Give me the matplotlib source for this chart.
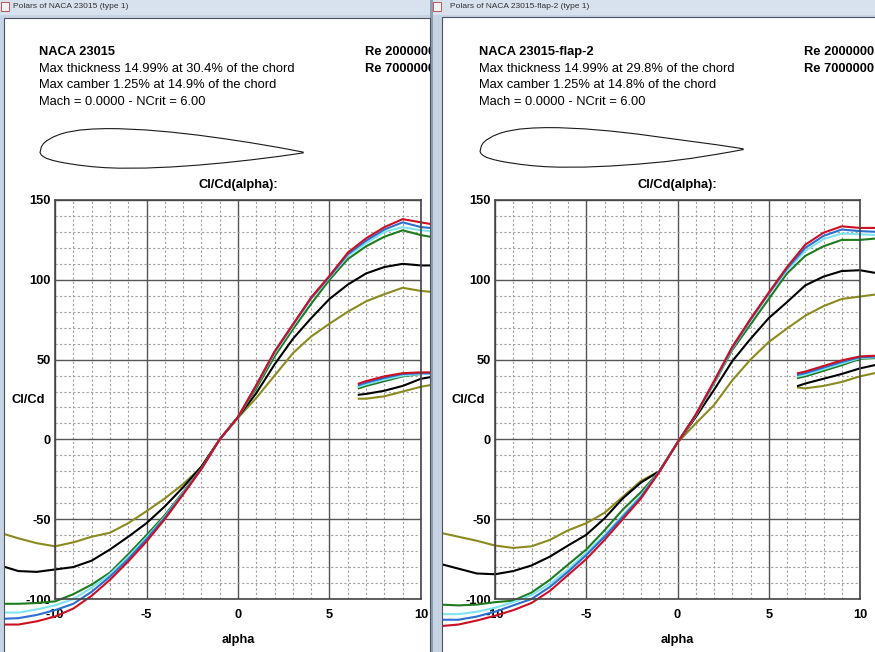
import numpy as np
import matplotlib
matplotlib.use("Agg")
import matplotlib.pyplot as plt
from matplotlib.patches import Rectangle
from matplotlib.ticker import MultipleLocator

plt.rcParams['font.family'] = ['Liberation Sans', 'DejaVu Sans']
plt.rcParams['axes.unicode_minus'] = False

W, H = 875, 652

# angle of attack (deg), main branch and the short high-alpha branch
alpha_main = [-13, -12, -11, -10, -9, -8, -7, -6, -5, -4, -3, -2, -1,
              0, 1, 2, 3, 4, 5, 6, 7, 8, 9, 10, 11]
alpha_high = [6.6, 7, 8, 9, 10, 11]

# Cl/Cd, NACA 23015 (left window)
red_L = [-116, -116, -114, -111, -106, -98, -88, -76.5, -64, -50, -34.5, -18.5, 0,
         14, 34, 55, 72, 89, 102.5, 117, 126, 133, 138, 136, 134]
blue_L = [-112.5, -112, -110, -107, -103, -95.5, -86, -75, -62.5, -49, -34, -18.5, 0,
          14, 34, 55, 72, 88.5, 102, 116, 124.5, 131.5, 136, 133, 132]
cyan_L = [-108.5, -108.5, -106.5, -104, -100, -93, -84.5, -73.5, -61.5, -48.5, -33.5, -18.5, 0,
          14, 33.5, 54, 71, 88, 101.5, 115, 123, 130, 133, 131, 130]
green_L = [-103, -103, -102.5, -101.5, -97, -91, -83.5, -72, -60, -47.5, -33, -18, 0,
           14, 32, 52, 69, 85, 100, 113, 121, 127, 131, 128, 126]
black_L = [-79, -82.5, -83, -81.5, -80, -76, -69, -61, -52.5, -42, -30, -17, 0,
           14, 29, 47, 63, 76, 88, 97, 104, 108, 110, 109, 109]
olive_L = [-58.5, -62, -65, -67, -64.5, -61, -58.5, -52.5, -45, -37, -28, -17.5, 0,
           13.5, 26, 40, 54, 64.5, 72.5, 80, 86.5, 91, 95, 93, 92]

red_L_hi = [35, 36.5, 39.5, 41.5, 42, 42]
blue_L_hi = [34, 35.5, 38.5, 41, 41.5, 41.5]
cyan_L_hi = [33, 34.5, 37.5, 40, 41, 41]
green_L_hi = [32, 33.5, 36.5, 39.5, 41, 41]
black_L_hi = [28, 28.5, 30.5, 33.5, 38, 40]
olive_L_hi = [25.5, 25.5, 27, 30, 33, 35]

# Cl/Cd, NACA 23015-flap-2 (right window)
red_R = [-117, -116, -113.5, -110.5, -107, -102.5, -95, -85, -75, -63, -50, -37, -20.5,
         -2, 15.5, 36.5, 58, 75.5, 92, 108, 122, 129.5, 133.5, 132.5, 132.5]
blue_R = [-113, -113, -111, -108, -104, -100, -92.5, -83, -72.5, -61, -48.5, -36, -20,
          -2, 15.5, 36, 57.5, 75, 91.5, 107, 120, 127.5, 131.5, 130.5, 130]
cyan_R = [-109.5, -109.5, -108, -105.5, -102, -97.5, -90.5, -81.5, -71, -60, -47.5, -35, -20,
          -2, 15, 35.5, 57, 74.5, 91, 106, 118, 125.5, 129, 128.5, 128]
green_R = [-103.5, -104, -103.5, -102, -101, -96, -88, -78.5, -69, -57, -44, -33, -20,
           -2, 15, 35, 56, 72, 88, 104, 115, 121, 125, 125, 126]
black_R = [-78, -81, -84, -84.5, -82.5, -79, -73.5, -66.5, -59.8, -49.5, -37, -27, -20,
           -2, 14, 31, 49, 63, 76, 86, 96.5, 102, 105.5, 106, 104]
olive_R = [-58.5, -61, -63.5, -66.5, -68, -67, -63, -57, -52.5, -46, -36, -26, -20,
           -2, 10, 21.5, 37, 50, 61, 69.5, 77.5, 83.5, 88, 89.5, 91]

red_R_hi = [41.5, 42.5, 46, 49.5, 52, 52.5]
blue_R_hi = [40.5, 41.5, 45, 48.5, 51.5, 52]
cyan_R_hi = [39.5, 40.5, 44, 47.5, 51, 51.5]
green_R_hi = [38.5, 39.5, 43, 46.5, 50.5, 51]
black_R_hi = [33.5, 35, 38, 41, 44.5, 47]
olive_R_hi = [32.5, 32, 33.5, 36, 39.5, 42]

# NACA 23015 ordinates (% chord), TE -> LE
foil_x = [100, 95, 90, 80, 70, 60, 50, 40, 30, 25, 20, 15, 10, 7.5, 5, 2.5, 1.25, 0.5, 0]
foil_up = [0.16, 1.12, 2.04, 3.73, 5.25, 6.61, 7.74, 8.59, 9.05, 9.08, 8.92, 8.52, 7.64,
           6.90, 5.89, 4.44, 3.34, 2.1, 0]
foil_lo = [-0.16, -0.90, -1.59, -2.83, -3.91, -4.81, -5.50, -5.92, -5.96, -5.78, -5.41,
           -4.84, -4.09, -3.61, -3.04, -2.25, -1.54, -0.95, 0]

colors = ['#8c8a1e', '#000000', '#1e7b1e', '#80e4f0', '#2b6fd0', '#cc1022']
re_lines = ['Re 2000000', 'Re 7000000']

FS = 9.3


def rect(x0, y0, x1, y1):
    return [x0 / W, 1 - y1 / H, (x1 - x0) / W, (y1 - y0) / H]


fig = plt.figure(figsize=(W / 100, H / 100), dpi=100, facecolor='#c6d3e2')

# window chrome
chrome = fig.add_axes([0, 0, 1, 1])
chrome.set_xlim(0, W)
chrome.set_ylim(H, 0)
chrome.axis('off')
chrome.add_patch(Rectangle((0, 0), 431, 15, facecolor='#d8e2ee', edgecolor='none'))
chrome.add_patch(Rectangle((433, 0), W - 433, 15, facecolor='#d8e2ee', edgecolor='none'))
chrome.add_patch(Rectangle((430, 0), 3, H, facecolor='#8e9db0', edgecolor='none'))
chrome.add_patch(Rectangle((4, 18), 426, H, facecolor='white', edgecolor='#4a5361', lw=0.8))
chrome.add_patch(Rectangle((442, 17), W, H, facecolor='white', edgecolor='#4a5361', lw=0.8))
for ix in [1, 433]:
    chrome.add_patch(Rectangle((ix, 2), 8, 9, facecolor='#f2f2f2', edgecolor='#b04040', lw=0.6))
chrome.text(13, 7, 'Polars of NACA 23015 (type 1)', fontsize=6, color='#303030', va='center')
chrome.text(450, 7, 'Polars of NACA 23015-flap-2 (type 1)', fontsize=6, color='#303030', va='center')


def draw_window(wx0, wx1, px0, px1, header, main, high, foil_x0, foil_yc, flap_deg):
    cont = fig.add_axes(rect(wx0, 18, wx1, H))
    cont.set_xlim(wx0, wx1)
    cont.set_ylim(H, 18)
    cont.axis('off')

    tx = foil_x0 - 1
    cont.text(tx, 52, header[0], fontsize=FS, fontweight='bold', va='center', clip_on=True)
    for k, s in enumerate(header[1:]):
        cont.text(tx, 69 + 16.5 * k, s, fontsize=FS, va='center', clip_on=True)
    for k, s in enumerate(re_lines):
        cont.text(px1 - 56, 52 + 17 * k, s, fontsize=FS, fontweight='bold', va='center',
                  clip_on=True)

    # airfoil outline
    chord = 263
    xs = np.array(foil_x + foil_x[::-1][1:])
    ys = np.array(foil_up + foil_lo[::-1][1:])
    hinge = 75.0
    ys = np.where(xs > hinge, ys + (xs - hinge) * np.tan(np.radians(flap_deg)), ys)
    cont.plot(foil_x0 + chord * xs / 100, foil_yc - chord * ys / 100, color='#1a1a1a', lw=0.8)

    cx = (px0 + px1) / 2
    cont.text(cx, 185, 'Cl/Cd(alpha):', fontsize=FS, fontweight='bold', ha='center', va='center')
    cont.text(cx, 640, 'alpha', fontsize=FS, fontweight='bold', ha='center', va='center')
    cont.text(px0 - 27, 400, 'Cl/Cd', fontsize=FS, fontweight='bold', ha='center', va='center')

    ax = fig.add_axes(rect(px0, 200, px1, 599))
    ax.set_xlim(-10, 10)
    ax.set_ylim(-100, 150)
    ax.xaxis.set_major_locator(MultipleLocator(5))
    ax.xaxis.set_minor_locator(MultipleLocator(1))
    ax.yaxis.set_major_locator(MultipleLocator(50))
    ax.yaxis.set_minor_locator(MultipleLocator(10))
    ax.grid(which='major', color='#555555', lw=1.0, ls='-')
    ax.grid(which='minor', color='#a0a0a0', lw=0.8, ls=(0, (2, 2)))
    ax.tick_params(which='both', length=0)
    ax.tick_params(axis='x', pad=7)
    ax.tick_params(axis='y', pad=3)
    for lab in ax.get_xticklabels() + ax.get_yticklabels():
        lab.set_fontweight('bold')
        lab.set_fontsize(FS)
    for sp in ax.spines.values():
        sp.set_color('#454545')
        sp.set_linewidth(1.2)

    for vals, col in zip(main, colors):
        ln, = ax.plot(alpha_main, vals, color=col, lw=1.5)
        ln.set_clip_box(cont.bbox)
    for vals, col in zip(high, colors):
        ln, = ax.plot(alpha_high, vals, color=col, lw=1.5)
        ln.set_clip_box(cont.bbox)
    return ax


draw_window(5, 430, 55, 421,
            ['NACA 23015',
             'Max thickness 14.99% at 30.4% of the chord',
             'Max camber 1.25% at 14.9% of the chord',
             'Mach = 0.0000 - NCrit = 6.00'],
            [olive_L, black_L, green_L, cyan_L, blue_L, red_L],
            [olive_L_hi, black_L_hi, green_L_hi, cyan_L_hi, blue_L_hi, red_L_hi],
            40, 152.5, 0)

draw_window(443, W, 495, 860,
            ['NACA 23015-flap-2',
             'Max thickness 14.99% at 29.8% of the chord',
             'Max camber 1.25% at 14.8% of the chord',
             'Mach = 0.0000 - NCrit = 6.00'],
            [olive_R, black_R, green_R, cyan_R, blue_R, red_R],
            [olive_R_hi, black_R_hi, green_R_hi, cyan_R_hi, blue_R_hi, red_R_hi],
            480, 151.5, 2)

fig.savefig('out.png', dpi=100, facecolor=fig.get_facecolor())
